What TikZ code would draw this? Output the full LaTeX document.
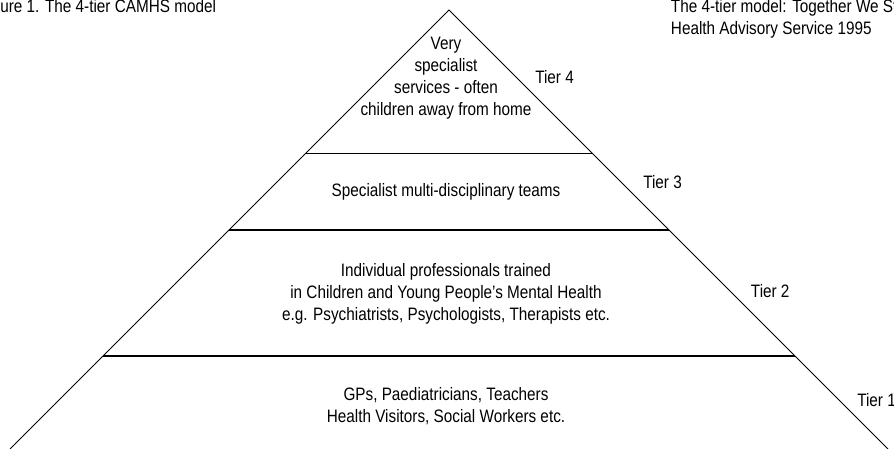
\documentclass[tikz,border=0pt]{standalone}
\usepackage{fontspec}
\setmainfont[FakeStretch=0.85]{Liberation Sans}
\begin{document}
\begin{tikzpicture}[x=0.75pt, y=-0.75pt,
		tiertext/.style={align=center, inner sep=0pt, font=\fontsize{13.5}{16.5}\selectfont},
		tierlabel/.style={anchor=base west, inner sep=0pt, font=\fontsize{13.5}{16.5}\selectfont},
		edge/.style={line width=0.75pt},
		divider/.style={line width=0.9pt}]
	\useasboundingbox (0, 0) rectangle (894, 449);
	
	% Captions
	\node[tierlabel] (title) at (0, 12.5) {ure 1. The 4-tier CAMHS model};
	\node[tiertext, align=left, anchor=west] (source) at (670.7, 18.8) {The 4-tier model: Together We St\\Health Advisory Service 1995};
	
	% Pyramid corners
	\coordinate (apex) at (449, 10);
	\coordinate (bl) at (10, 449);
	\coordinate (br) at (888, 449);
	
	% Divider ends
	\coordinate (d4l) at (305.7, 153.3);
	\coordinate (d4r) at (592.3, 153.3);
	\coordinate (d3l) at (229, 230);
	\coordinate (d3r) at (669, 230);
	\coordinate (d2l) at (103, 356);
	\coordinate (d2r) at (795, 356);
	
	% Pyramid
	\draw[edge] (bl) -- (apex) -- (br);
	\draw[divider] (d4l) -- (d4r);
	\draw[divider] (d3l) -- (d3r);
	\draw[divider] (d2l) -- (d2r);
	
	% Tier contents
	\node[tiertext] (t4) at (446, 78) {Very\\specialist\\services - often\\children away from home};
	\node[tiertext] (t3) at (446, 192) {Specialist multi-disciplinary teams};
	\node[tiertext] (t2) at (446, 294) {Individual professionals trained\\in Children and Young People’s Mental Health\\e.g. Psychiatrists, Psychologists, Therapists etc.};
	\node[tiertext] (t1) at (446, 406) {GPs, Paediatricians, Teachers\\Health Visitors, Social Workers etc.};
	
	% Tier labels
	\node[tierlabel] (l4) at (535, 83.3) {Tier 4};
	\node[tierlabel] (l3) at (643, 189) {Tier 3};
	\node[tierlabel] (l2) at (750.7, 297.7) {Tier 2};
	\node[tierlabel] (l1) at (857, 406.7) {Tier 1};
\end{tikzpicture}
\end{document}
